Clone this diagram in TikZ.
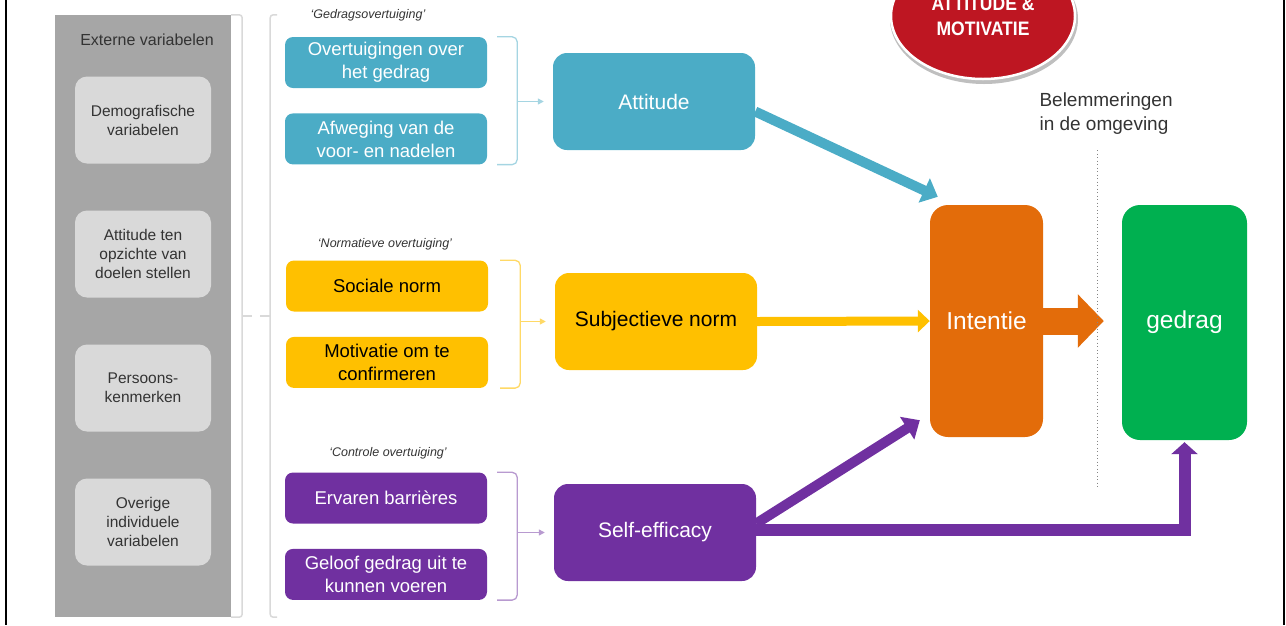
\documentclass[tikz,border=0pt]{standalone}
\usepackage{fontspec}
\setmainfont{Liberation Sans}
\newfontfamily\smalfont[FakeStretch=0.9]{Liberation Sans}
\usetikzlibrary{arrows.meta,positioning,shapes.geometric}

\definecolor{blauw}{HTML}{4BACC6}
\definecolor{blauwlicht}{HTML}{A5D5E2}
\definecolor{geel}{HTML}{FFC000}
\definecolor{geellicht}{HTML}{FFD966}
\definecolor{paars}{HTML}{7030A0}
\definecolor{paarslicht}{HTML}{B89AD0}
\definecolor{oranje}{HTML}{E36C0A}
\definecolor{groen}{HTML}{00B050}
\definecolor{grijs}{HTML}{A6A6A6}
\definecolor{grijslicht}{HTML}{D9D9D9}
\definecolor{rood}{HTML}{BE1622}
\definecolor{tekstgrijs}{HTML}{333333}

\tikzset{
  vakje/.style={rounded corners=8pt, minimum width=202pt, minimum height=51pt, align=center, font=\fontsize{18.5}{23}\selectfont},
  groot/.style={rounded corners=14pt, minimum width=202pt, minimum height=97pt, font=\fontsize{21}{24}\selectfont},
  extvak/.style={fill=grijslicht, rounded corners=12pt, minimum width=136pt, minimum height=87pt, align=center, text=tekstgrijs, font=\fontsize{15.5}{19}\selectfont},
  kopje/.style={text=tekstgrijs, font=\fontsize{12.5}{14}\selectfont\itshape},
  accolade/.style={line width=1.3pt, rounded corners=5pt},
  haakje/.style={grijslicht, line width=1.5pt, rounded corners=3pt},
  pijltje/.style={line width=1.3pt, shorten >=9pt, -{Triangle[length=6pt,width=6pt]}},
}

\begin{document}
\begin{tikzpicture}[x=1pt, y=-1pt, node distance=25pt]
    \useasboundingbox (0,0) rectangle (1286,625);
    \clip (0,0) rectangle (1286,625);

    % externe variabelen
    \node[fill=grijs, minimum width=176pt, minimum height=602pt] (extern) at (143,316) {};
    \node[text=tekstgrijs, font=\fontsize{16}{18}\selectfont] (externkop) at (147,40) {Externe variabelen};
    \foreach \tekst [count=\i] in {{Demografische\\variabelen}, {Attitude ten\\opzichte van\\doelen stellen}, {Persoons-\\kenmerken}, {Overige\\individuele\\variabelen}}
        \node[extvak] (ext\i) at (143,{120+134*(\i-1)}) {\tekst};
    \draw[haakje] (extern.north east) -- ++(11,0) coordinate (h1) |- (extern.south east);
    \draw[haakje] (h1 |- extern.east) -- ++(10,0);
    \draw[haakje] ([xshift=46pt]extern.north east) -- ++(-7,0) coordinate (h2) |- ([xshift=46pt]extern.south east);
    \draw[haakje] (h2 |- extern.east) -- ++(-10,0);

    % overtuigingen
    \node[kopje] (kop1) at (368,15) {`Gedragsovertuiging'};
    \node[vakje, fill=blauw, text=white] (ovt) at (386,62.5) {Overtuigingen over\\het gedrag};
    \node[vakje, fill=blauw, text=white, below=of ovt] (afw) {Afweging van de\\voor- en nadelen};
    \node[kopje] (kop2) at (385,244) {`Normatieve overtuiging'};
    \node[vakje, fill=geel] (soc) at (387,286) {Sociale norm};
    \node[vakje, fill=geel, below=of soc] (mot) {Motivatie om te\\confirmeren};
    \node[kopje] (kop3) at (388,453) {`Controle overtuiging'};
    \node[vakje, fill=paars, text=white] (erv) at (386,498) {Ervaren barrières};
    \node[vakje, fill=paars, text=white, below=of erv] (gel) {Geloof gedrag uit te\\kunnen voeren};

    % determinanten
    \node[groot, fill=blauw, text=white] (att) at (654,101.5) {Attitude};
    \node[groot, fill=geel] (subj) at (656,321.5) {Subjectieve norm};
    \node[groot, fill=paars, text=white] (self) at (655,532.5) {Self-efficacy};
    \node[rounded corners=18pt, fill=oranje, text=white, minimum width=113pt, minimum height=232pt, font=\fontsize{24.5}{26}\selectfont] (int) at (986.5,321) {Intentie};
    \node[rounded corners=18pt, fill=groen, text=white, minimum width=125pt, minimum height=235pt, font=\fontsize{24.5}{26}\selectfont] (gedrag) at (1184.5,322.5) {gedrag};

    % accolades
    \draw[accolade, blauwlicht] ([xshift=10pt]ovt.north east) -- ++(20,0) coordinate (b1) |- ([xshift=10pt]afw.south east);
    \draw[pijltje, blauwlicht] (b1 |- att.west) -- (att.west);
    \draw[accolade, geellicht] ([xshift=12pt]soc.north east) -- ++(20,0) coordinate (b2) |- ([xshift=12pt]mot.south east);
    \draw[pijltje, geellicht] (b2 |- subj.west) -- (subj.west);
    \draw[accolade, paarslicht] ([xshift=10pt]erv.north east) -- ++(20,0) coordinate (b3) |- ([xshift=10pt]gel.south east);
    \draw[pijltje, paarslicht] (b3 |- self.west) -- (self.west);

    % pijlen
    \draw[blauw, line width=10pt, -{Triangle[length=15pt,width=26pt]}] ([yshift=-10pt]att.east) -- ([shift={(8pt,8pt)}]int.north west);
    \draw[geel, line width=9pt, -{Triangle[length=12pt,width=22pt]}] (subj.east) -- (int.west);
    \draw[oranje, line width=27pt, shorten >=18pt, -{Triangle[length=26pt,width=52pt]}] (int.east) -- (int.east -| gedrag.west);
    \draw[paars, line width=10pt, -{Triangle[length=15pt,width=26pt]}] ([yshift=9pt]self.east) -- ([shift={(-10pt,17pt)}]int.south west);
    \draw[paars, line width=12pt, shorten >=2pt, -{Triangle[length=12pt,width=26pt]}] ([yshift=3pt]self.east) -| (gedrag.south);

    % omgeving
    \coordinate (grensboven) at (1097,150);
    \coordinate (grensonder) at (1097,488);
    \draw[grijs!80!black, line width=1pt, dash pattern=on 1pt off 2.5pt] (grensboven) -- (grensonder);
    \node[anchor=north west, align=left, text=tekstgrijs, font=\fontsize{19}{24}\selectfont] (belem) at (1036,89) {Belemmeringen\\in de omgeving};

    % titel
    \fill[black!25] (984,19) ellipse [x radius=94, y radius=65];
    \node[ellipse, fill=rood, draw=white, line width=2.5pt, minimum width=184pt, minimum height=126pt, text=white, align=center, font=\smalfont\bfseries\fontsize{19.5}{25}\selectfont] (titel) at (983,16) {ATTITUDE \&\\MOTIVATIE};

    % kader
    \draw[line width=2.5pt] (6,0) -- (6,625);
    \draw[line width=2.5pt] (1284,0) -- (1284,625);
\end{tikzpicture}
\end{document}
